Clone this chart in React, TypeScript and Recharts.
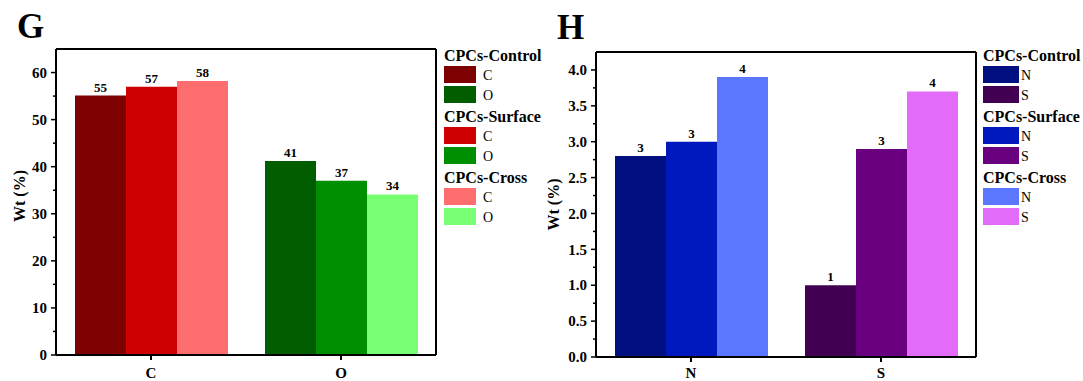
import React from 'react';
import { BarChart, Bar, XAxis, YAxis, Cell, LabelList } from 'recharts';

const FONT = '"Liberation Serif", "Times New Roman", serif';

const seriesNames = ['CPCs-Control', 'CPCs-Surface', 'CPCs-Cross'];

// panel G
const categoriesG = ['C', 'O'];
const controlG = [55.1, 41.2];
const surfaceG = [57.0, 37.0];
const crossG = [58.2, 34.1];
const colorsG = [
  ['#7f0000', '#005e00'],
  ['#cf0000', '#008f00'],
  ['#ff6e6e', '#78ff74'],
];
const yTicksG = [0, 5, 10, 15, 20, 25, 30, 35, 40, 45, 50, 55, 60];

// panel H
const categoriesH = ['N', 'S'];
const controlH = [2.8, 1.0];
const surfaceH = [3.0, 2.9];
const crossH = [3.9, 3.7];
const colorsH = [
  ['#001080', '#420052'],
  ['#0019bf', '#68007f'],
  ['#5c77ff', '#e26bfa'],
];
const yTicksH = [0, 0.25, 0.5, 0.75, 1, 1.25, 1.5, 1.75, 2, 2.25, 2.5, 2.75, 3, 3.25, 3.5, 3.75, 4];

const seriesKeys = ['control', 'surface', 'cross'];

const makeYTick = (majorEvery: number, decimals: number) => (props: any) => {
  const { x, y, payload } = props;
  const v = payload.value;
  const r = v / majorEvery;
  const major = Math.abs(r - Math.round(r)) < 1e-6;
  return (
    <g>
      <line x1={x - (major ? 5 : 3)} x2={x} y1={y} y2={y} stroke="#000" strokeWidth={1.5} />
      {major && (
        <text x={x - 9} y={y} dy="0.35em" textAnchor="end" fontFamily={FONT} fontWeight="bold" fontSize={15} fill="#000">
          {v.toFixed(decimals)}
        </text>
      )}
    </g>
  );
};

interface PanelProps {
  left: number;
  width: number;
  letter: string;
  letterTop: number;
  categories: string[];
  values: number[][];
  colors: string[][];
  yMax: number;
  yTicks: number[];
  majorEvery: number;
  decimals: number;
  top: number;
  right: number;
  xAxisHeight: number;
  tickMargin: number;
  titleDx: number;
  titleDy: number;
  legendLeft: number;
  swatchW: number;
  textGap: number;
}

const Panel: React.FC<PanelProps> = (p) => {
  const data = p.categories.map((name, i) => ({
    name,
    control: p.values[0][i],
    surface: p.values[1][i],
    cross: p.values[2][i],
  }));
  const axisStyle = { stroke: '#000', strokeWidth: 2 };

  return (
    <div style={{ position: 'absolute', left: p.left, top: 0, width: p.width, height: 381 }}>
      <div
        style={{
          position: 'absolute',
          left: 17,
          top: p.letterTop,
          fontSize: 35,
          lineHeight: '35px',
          fontWeight: 'bold',
          fontFamily: FONT,
        }}
      >
        {p.letter}
      </div>
      <BarChart
        width={p.width}
        height={381}
        data={data}
        margin={{ top: p.top, right: p.right, bottom: 0, left: 8 }}
        barCategoryGap="10%"
        barGap={0}
      >
        <XAxis
          dataKey="name"
          height={p.xAxisHeight}
          axisLine={axisStyle}
          tickLine={axisStyle}
          tickSize={5}
          tickMargin={p.tickMargin}
          tick={{ fill: '#000', fontSize: 15, fontWeight: 'bold', fontFamily: FONT }}
        />
        <XAxis xAxisId="top" dataKey="name" orientation="top" mirror height={1} tick={false} tickLine={false} axisLine={axisStyle} />
        <YAxis
          width={48}
          domain={[0, p.yMax]}
          ticks={p.yTicks}
          interval={0}
          tickSize={0}
          tickMargin={0}
          tickLine={false}
          axisLine={axisStyle}
          tick={makeYTick(p.majorEvery, p.decimals)}
          label={{
            value: 'Wt (%)',
            angle: -90,
            position: 'center',
            dx: p.titleDx,
            dy: p.titleDy,
            style: { fontFamily: FONT, fontWeight: 'bold', fontSize: 16, fill: '#000' },
          }}
        />
        <YAxis yAxisId="right" orientation="right" mirror width={1} tick={false} tickLine={false} axisLine={axisStyle} />
        {seriesKeys.map((key, si) => (
          <Bar key={key} dataKey={key} isAnimationActive={false}>
            {data.map((d, ci) => (
              <Cell key={d.name} fill={p.colors[si][ci]} />
            ))}
            <LabelList
              dataKey={key}
              position="top"
              offset={4}
              formatter={(v: any) => Math.round(Number(v))}
              style={{ fill: '#000', fontFamily: FONT, fontWeight: 'bold', fontSize: 13 }}
            />
          </Bar>
        ))}
      </BarChart>
      <div style={{ position: 'absolute', left: p.legendLeft, top: 46, fontFamily: FONT, color: '#000' }}>
        {seriesNames.map((s, si) => (
          <div key={s} style={{ height: 61 }}>
            <div style={{ height: 20, lineHeight: '20px', fontSize: 16, fontWeight: 'bold', whiteSpace: 'nowrap' }}>{s}</div>
            {p.categories.map((c, ci) => (
              <div key={c} style={{ height: 20, display: 'flex', alignItems: 'flex-start' }}>
                <div style={{ width: p.swatchW, height: 17, background: p.colors[si][ci] }} />
                <span style={{ marginLeft: p.textGap, fontSize: 14, lineHeight: '19px' }}>{c}</span>
              </div>
            ))}
          </div>
        ))}
      </div>
    </div>
  );
};

export default function App() {
  return (
    <div style={{ position: 'absolute', left: 0, top: 0, width: 1083, height: 381, background: '#fff', fontFamily: FONT }}>
      <Panel
        left={0}
        width={540}
        letter="G"
        letterTop={9}
        categories={categoriesG}
        values={[controlG, surfaceG, crossG]}
        colors={colorsG}
        yMax={65}
        yTicks={yTicksG}
        majorEvery={10}
        decimals={0}
        top={49}
        right={104}
        xAxisHeight={26}
        tickMargin={7}
        titleDx={-13}
        titleDy={-6}
        legendLeft={444}
        swatchW={32}
        textGap={7}
      />
      <Panel
        left={540}
        width={543}
        letter="H"
        letterTop={10}
        categories={categoriesH}
        values={[controlH, surfaceH, crossH]}
        colors={colorsH}
        yMax={4.25}
        yTicks={yTicksH}
        majorEvery={0.5}
        decimals={1}
        top={52}
        right={107}
        xAxisHeight={24}
        tickMargin={5}
        titleDx={-19}
        titleDy={0}
        legendLeft={443}
        swatchW={36}
        textGap={2}
      />
    </div>
  );
}
